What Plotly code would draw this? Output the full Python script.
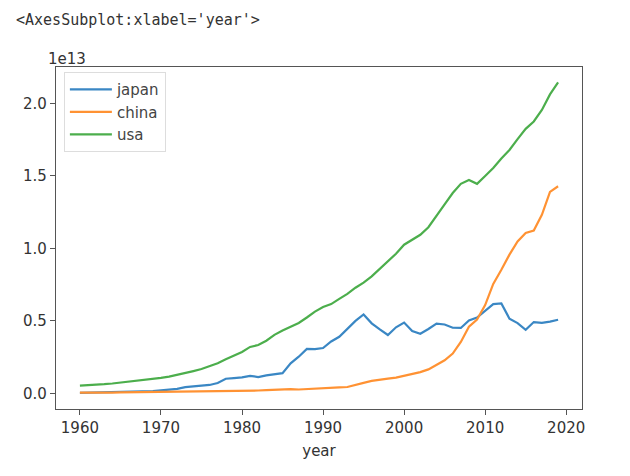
import plotly.graph_objects as go

years = list(range(1960, 2020))

japan = [0.0444, 0.0537, 0.0609, 0.0695, 0.0818, 0.0910, 0.1056, 0.1238, 0.1465, 0.1721,
         0.2127, 0.2404, 0.3184, 0.4326, 0.4798, 0.5212, 0.5862, 0.7215, 1.0135, 1.0552,
         1.1053, 1.2184, 1.1349, 1.2435, 1.3183, 1.3986, 2.0785, 2.5327, 3.0717, 3.0546,
         3.1328, 3.5843, 3.9089, 4.4545, 4.9987, 5.4491, 4.8332, 4.4147, 4.0323, 4.5621,
         4.8875, 4.3035, 4.1153, 4.4457, 4.8151, 4.7554, 4.5303, 4.5152, 5.0379, 5.2312,
         5.7001, 6.1575, 6.2032, 5.1557, 4.8504, 4.3895, 4.9227, 4.8669, 4.9548, 5.0818]

china = [0.0597, 0.0500, 0.0472, 0.0507, 0.0597, 0.0704, 0.0767, 0.0729, 0.0709, 0.0797,
         0.0926, 0.0998, 0.1137, 0.1385, 0.1442, 0.1634, 0.1539, 0.1749, 0.1495, 0.1783,
         0.1911, 0.1960, 0.2051, 0.2302, 0.2599, 0.3094, 0.3008, 0.2730, 0.3123, 0.3478,
         0.3609, 0.3834, 0.4269, 0.4447, 0.5641, 0.7343, 0.8632, 0.9616, 1.0290, 1.0940,
         1.2113, 1.3394, 1.4706, 1.6602, 1.9553, 2.2860, 2.7521, 3.5521, 4.5944, 5.1017,
         6.0872, 7.5515, 8.5323, 9.5704, 10.4757, 11.0616, 11.2333, 12.3104, 13.8948, 14.2799]

usa = [0.543, 0.563, 0.605, 0.638, 0.686, 0.744, 0.815, 0.862, 0.943, 1.019,
       1.073, 1.165, 1.280, 1.425, 1.545, 1.684, 1.873, 2.082, 2.352, 2.627,
       2.857, 3.207, 3.343, 3.634, 4.037, 4.339, 4.580, 4.855, 5.236, 5.642,
       5.963, 6.158, 6.520, 6.859, 7.287, 7.640, 8.073, 8.578, 9.063, 9.631,
       10.252, 10.582, 10.936, 11.458, 12.214, 13.037, 13.815, 14.452, 14.713, 14.449,
       14.992, 15.543, 16.197, 16.785, 17.527, 18.238, 18.745, 19.543, 20.612, 21.433]

# values in trillions of US$ -> raw units
scale = 1e12
series = [("japan", japan, "#3a87c4"), ("china", china, "#ff9233"), ("usa", usa, "#4cae4c")]

x_ticks = [1960, 1970, 1980, 1990, 2000, 2010, 2020]
y_tick_vals = [0.0, 0.5e13, 1.0e13, 1.5e13, 2.0e13]
y_tick_text = ["0.0", "0.5", "1.0", "1.5", "2.0"]

fig = go.Figure()
for name, vals, color in series:
    fig.add_trace(go.Scatter(x=years, y=[v * scale for v in vals], mode="lines", name=name,
                             line=dict(color=color, width=2.2)))

axis_common = dict(showline=True, mirror=True, linecolor="#555", linewidth=1.2,
                   ticks="outside", ticklen=5, tickwidth=1.2, tickcolor="#555",
                   showgrid=False, zeroline=False, automargin=False,
                   tickfont=dict(family="DejaVu Sans", size=15, color="#333"))

fig.update_layout(
    width=630, height=476,
    margin=dict(l=48, r=56, t=59, b=75),
    paper_bgcolor="white", plot_bgcolor="white",
    font=dict(family="DejaVu Sans", size=15, color="#333"),
    xaxis=dict(range=[1957.05, 2021.95], tickvals=x_ticks,
               title=dict(text="year", standoff=9, font=dict(size=15, color="#333")),
               **axis_common),
    yaxis=dict(range=[-0.107e13, 2.25e13], tickvals=y_tick_vals, ticktext=y_tick_text,
               **axis_common),
    legend=dict(x=0.015, y=0.985, xanchor="left", yanchor="top",
                bgcolor="white", bordercolor="#ddd", borderwidth=1,
                itemwidth=42,
                font=dict(size=15, color="#444"), tracegroupgap=0),
    showlegend=True,
)

fig.add_annotation(text="1e13", xref="paper", yref="paper", x=-0.019, y=0.99,
                   xanchor="left", yanchor="bottom", showarrow=False,
                   font=dict(family="DejaVu Sans", size=15, color="#333"))
fig.add_annotation(text="&lt;AxesSubplot:xlabel='year'&gt;", xref="paper", yref="paper",
                   x=-0.08, y=1.137, xanchor="left", yanchor="middle", showarrow=False,
                   font=dict(family="DejaVu Sans Mono", size=15, color="#333"))

fig.write_html("out.html")
